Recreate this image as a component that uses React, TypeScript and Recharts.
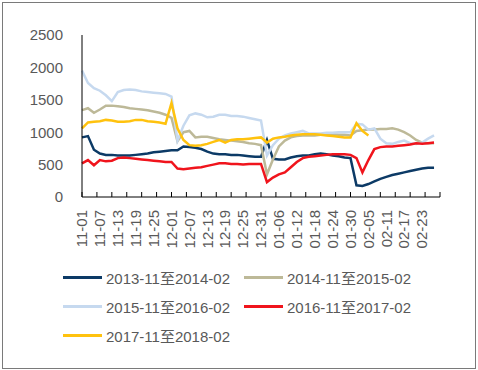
import { LineChart, Line, XAxis, YAxis } from 'recharts';

// data points every 2 days, 11-01 .. 02-27
const dates = [
  '11-01', '11-03', '11-05', '11-07', '11-09', '11-11', '11-13', '11-15', '11-17', '11-19', '11-21', '11-23', '11-25', '11-27', '11-29',
  '12-01', '12-03', '12-05', '12-07', '12-09', '12-11', '12-13', '12-15', '12-17', '12-19', '12-21', '12-23', '12-25', '12-27', '12-29', '12-31',
  '01-02', '01-04', '01-06', '01-08', '01-10', '01-12', '01-14', '01-16', '01-18', '01-20', '01-22', '01-24', '01-26', '01-28', '01-30',
  '02-01', '02-03', '02-05', '02-07', '02-09', '02-11', '02-13', '02-15', '02-17', '02-19', '02-21', '02-23', '02-25', '02-27',
];

const s2013 = [
  920, 940, 730, 670, 650, 650, 640, 640, 640, 650, 660, 670, 690, 700, 710,
  720, 720, 780, 770, 760, 740, 700, 670, 660, 660, 650, 650, 640, 630, 620, 620,
  880, 590, 580, 580, 610, 630, 640, 640, 660, 670, 660, 640, 630, 610, 600,
  180, 170, 200, 240, 280, 310, 340, 360, 380, 400, 420, 440, 450, 450,
];
const s2014 = [
  1340, 1370, 1300, 1350, 1410, 1410, 1400, 1390, 1370, 1360, 1350, 1340, 1320, 1300, 1270,
  1220, 860, 1000, 1020, 920, 930, 930, 910, 890, 880, 870, 860, 850, 830, 820, 800,
  350, 580, 780, 870, 920, 940, 950, 950, 950, 960, 960, 970, 960, 960, 950,
  1020, 1030, 1040, 1040, 1050, 1050, 1060, 1040, 1000, 950, 880, 840, 830, 830,
];
const s2015 = [
  1950, 1760, 1680, 1640, 1570, 1480, 1620, 1650, 1660, 1650, 1630, 1620, 1610, 1600, 1590,
  1550, 870, 1100, 1260, 1290, 1270, 1230, 1240, 1270, 1270, 1250, 1250, 1240, 1220, 1200, 1180,
  640, 800, 900, 950, 980, 1000, 1020, 980, 980, 980, 990, 990, 1000, 1000, 1000,
  1130, 1120, 1040, 1060, 900, 830, 820, 850, 870, 830, 820, 840, 900, 950,
];
const s2016 = [
  520, 570, 490, 570, 550, 560, 600, 610, 600, 590, 580, 570, 560, 550, 540,
  540, 440, 430, 440, 450, 460, 480, 500, 520, 520, 510, 510, 500, 510, 510, 510,
  230, 300, 350, 380, 460, 540, 600, 620, 630, 640, 650, 660, 660, 660, 650,
  600, 380, 570, 740, 770, 780, 780, 790, 800, 810, 830, 820, 830, 840,
];
const s2017 = [
  1060, 1150, 1160, 1170, 1190, 1180, 1160, 1160, 1170, 1190, 1190, 1170, 1160, 1150, 1130,
  1450, 1060, 880, 800, 790, 800, 820, 850, 880, 840, 880, 890, 890, 900, 910, 920,
  840, 900, 920, 930, 950, 960, 970, 970, 970, 960, 950, 940, 930, 920, 920,
  1140, 1020, 950, null, null, null, null, null, null, null, null, null, null, null,
];

const tickLabels = [
  '11-01', '11-07', '11-13', '11-19', '11-25', '12-01', '12-07', '12-13', '12-19', '12-25',
  '12-31', '01-06', '01-12', '01-18', '01-24', '01-30', '02-05', '02-11', '02-17', '02-23',
];
const tickMarks = [0, 5, 10, 15, 20, 25, 30, 35, 40, 45, 50, 55, 60, 65, 70, 75, 80, 85, 90, 95, 100, 105, 110, 115, 120];
const yTicks = [0, 500, 1000, 1500, 2000, 2500];

const series = [
  { key: 's2013', name: '2013-11至2014-02', color: '#0c3a66', values: s2013 },
  { key: 's2014', name: '2014-11至2015-02', color: '#bdb998', values: s2014 },
  { key: 's2015', name: '2015-11至2016-02', color: '#c6d9ef', values: s2015 },
  { key: 's2016', name: '2016-11至2017-02', color: '#f0141c', values: s2016 },
  { key: 's2017', name: '2017-11至2018-02', color: '#ffc20e', values: s2017 },
];

// day offset from 11-01
const monthStart: Record<string, number> = { '11': 0, '12': 30, '01': 61, '02': 92 };
const dayOf = (md: string) => monthStart[md.slice(0, 2)] + Number(md.slice(3)) - 1;

const data = dates.map((md, i) => {
  const row: Record<string, number | string | null> = { d: dayOf(md), date: md };
  series.forEach((s) => { row[s.key] = s.values[i]; });
  return row;
});

const labelByDay: Record<number, string> = {};
tickLabels.forEach((t) => { labelByDay[dayOf(t)] = t; });
const allTicks = Array.from(new Set([...tickMarks, ...Object.keys(labelByDay).map(Number)])).sort((a, b) => a - b);

const FONT = "'Liberation Sans', Arial, 'Noto Sans CJK SC', sans-serif";
const TEXT = '#595959';

function XTick(props: any) {
  const { x, y, payload } = props;
  const v = payload.value;
  const label = labelByDay[v];
  return (
    <g>
      {tickMarks.includes(v) && <line x1={x} x2={x} y1={y} y2={y - 5} stroke="#000" strokeWidth={1} />}
      {label && (
        <text
          x={x}
          y={y + 13}
          transform={`rotate(-90, ${x}, ${y + 13})`}
          textAnchor="end"
          dy="0.35em"
          fill={TEXT}
          fontSize={15}
          fontFamily={FONT}
        >
          {label}
        </text>
      )}
    </g>
  );
}

function LegendBox() {
  const cols = [63, 244];
  const rows = [277, 306, 335];
  return (
    <>
      {series.map((s, i) => (
        <div
          key={s.key}
          style={{
            position: 'absolute',
            left: cols[i % 2],
            top: rows[Math.floor(i / 2)] - 10,
            height: 20,
            display: 'flex',
            alignItems: 'center',
            fontFamily: FONT,
            fontSize: 15,
            color: TEXT,
            whiteSpace: 'nowrap',
          }}
        >
          <div style={{ width: 39, height: 3, background: s.color, marginRight: 4 }} />
          <span>{s.name}</span>
        </div>
      ))}
    </>
  );
}

export default function App() {
  return (
    <div style={{ position: 'absolute', left: 0, top: 0, width: 478, height: 370, background: '#fff' }}>
      <div
        style={{
          position: 'absolute',
          left: 2,
          top: 2,
          width: 474,
          height: 367,
          boxSizing: 'border-box',
          border: '1px solid #7a7a7a',
        }}
      />
      <LineChart
        width={478}
        height={370}
        data={data}
        margin={{ top: 35, right: 38, left: 22, bottom: 123 }}
        style={{ position: 'absolute', left: 0, top: 0, fontFamily: FONT }}
      >
        <XAxis
          type="number"
          dataKey="d"
          domain={[0, 120]}
          ticks={allTicks}
          interval={0}
          tickLine={false}
          tickSize={0}
          tickMargin={0}
          height={50}
          axisLine={{ stroke: '#000' }}
          tick={<XTick />}
        />
        <YAxis
          domain={[0, 2500]}
          ticks={yTicks}
          width={60}
          tickLine={false}
          tickSize={6}
          tickMargin={13}
          axisLine={{ stroke: '#000' }}
          tick={{ fill: TEXT, fontSize: 15, fontFamily: FONT }}
        />
        {series.map((s) => (
          <Line
            key={s.key}
            type="linear"
            dataKey={s.key}
            name={s.name}
            stroke={s.color}
            strokeWidth={2.5}
            dot={false}
            isAnimationActive={false}
          />
        ))}
      </LineChart>
      <LegendBox />
    </div>
  );
}
